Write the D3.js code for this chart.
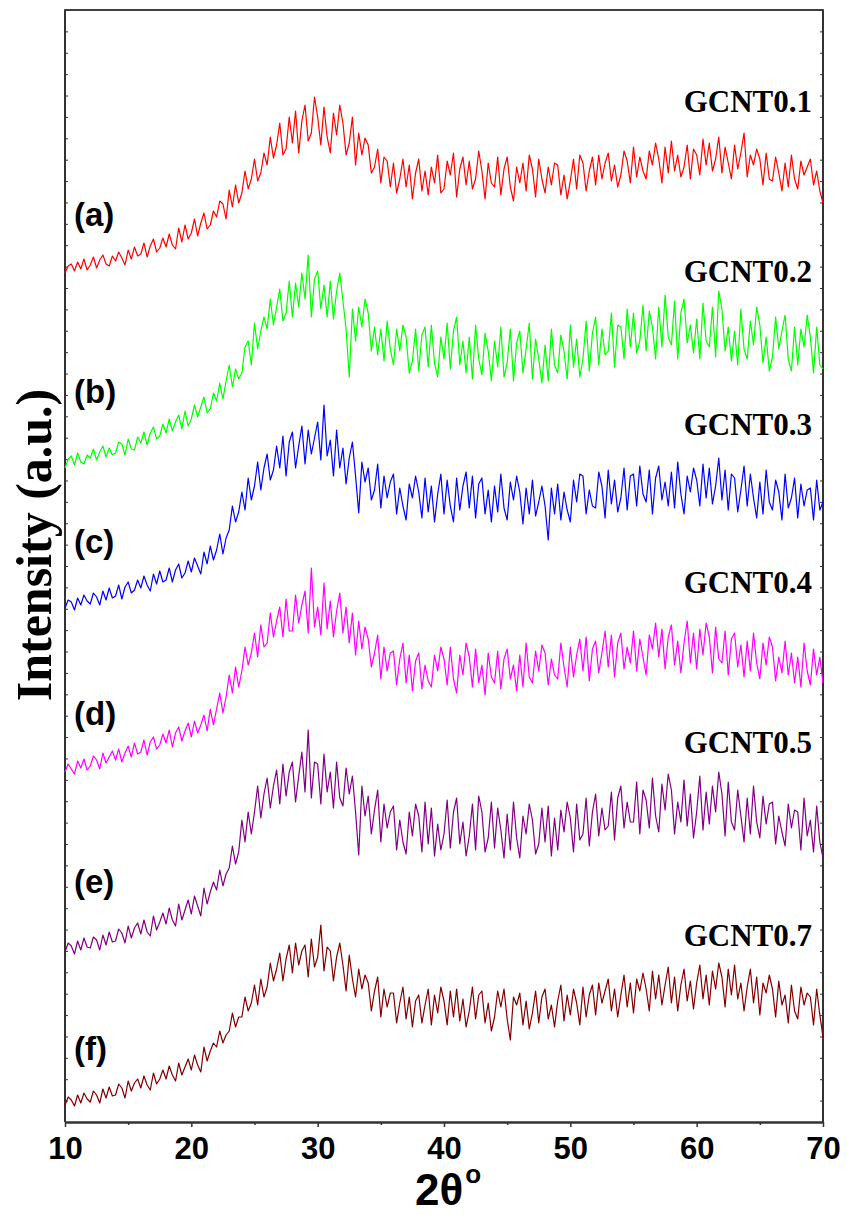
<!DOCTYPE html>
<html>
<head>
<meta charset="utf-8">
<script src="https://cdn.jsdelivr.net/npm/d3@7"></script>
<style>
body { margin: 0; background: #fff; }
svg { display: block; }
</style>
</head>
<body>
<div id="chart"></div>
<script>
// XRD patterns, 2theta from 10 to 70 in 0.25 deg steps

var angles = d3.range(0, 241).map(i => 10 + i * 0.25);

var gcnt01 = [
10,17,19,12, 21,14,24,13, 18,26,15,23, 28,19,17,27, 22,31,25,18,
33,24,36,27, 29,40,26,37, 44,31,35,45, 36,49,38,34, 55,41,58,44,
50,64,47,60, 70,54,58,72, 66,82,79,64, 93,76,98,80, 90,112,94,104,
124,102,110,130, 118,146,125,138, 160,128,134,166, 140,172,130,162, 178,142,150,186,
166,138,176,146, 130,170,148,178, 160,128,140,166, 118,150,128,145, 138,110,116,134,
100,126,122,96, 120,90,104,124, 96,118,84,110, 124,92,112,88, 116,100,128,90,
94,122,108,130, 86,114,126,98, 122,94,104,132, 112,84,120,100, 96,126,88,114,
126,96,82,116, 100,120,92,128, 114,86,124,104, 90,116,98,120, 118,88,108,84,
102,124,94,128, 120,92,112,126, 98,128,104,120, 130,102,118,96, 108,132,122,100,
136,106,126,112, 104,132,118,140, 124,100,136,110, 142,112,128,106, 116,138,104,134,
128,108,144,118, 140,112,124,146, 110,136,120,104, 138,114,130,150, 106,128,118,134,
124,98,130,104, 102,126,110,92, 120,96,128,104, 94,122,108,116, 124,98,112,92,
80];

var gcnt02 = [
9,18,21,12, 24,15,13,22, 19,28,17,25, 31,20,29,22, 24,35,33,22,
38,28,27,40, 34,45,32,44, 50,38,41,53, 44,58,46,55, 62,48,66,51,
58,72,60,70, 80,64,68,84, 76,94,78,96, 112,90,108,98, 104,130,136,112,
154,128,146,160, 148,178,152,170, 188,156,164,196, 160,194,170,204, 178,222,160,198,
206,168,192,160, 196,158,186,204, 176,148,100,168, 136,170,150,178, 164,126,150,122,
148,116,156,128, 112,148,126,152, 140,104,116,148, 106,142,150,110, 152,114,100,140,
118,154,108,146, 160,112,136,104, 140,98,152,118, 102,144,126,96, 136,110,150,100,
114,148,96,134, 146,104,128,154, 98,138,118,94, 132,96,148,112, 104,142,126,98,
152,110,138,100, 118,156,106,144, 160,112,148,122, 126,164,110,152, 150,118,168,130,
164,124,136,172, 126,166,150,118, 170,130,182,140, 132,176,118,164, 178,134,152,124,
158,118,174,136, 130,170,120,186, 168,126,150,116, 146,112,168,128, 118,156,132,170,
152,114,140,106, 120,160,128,146, 162,118,106,150, 112,148,130,162, 140,104,150,112,
108];

var gcnt03 = [
10,18,16,8, 20,13,23,17, 14,25,21,13, 27,18,30,20, 22,33,19,31,
36,25,28,38, 30,42,33,27, 44,34,47,36, 38,50,36,48, 54,40,45,57,
46,60,52,44, 66,54,72,58, 68,84,64,80, 88,112,96,106, 126,108,140,118,
132,156,128,150, 164,138,148,172, 150,182,142,176, 186,150,172,192, 154,188,164,180,
196,158,213,162, 178,142,188,150, 170,134,160,176, 142,105,156,136, 150,118,128,154,
110,142,120,136, 144,104,130,112, 98,134,120,142, 126,100,140,106, 132,96,124,144,
104,138,112,96, 140,108,132,146, 110,142,100,134, 140,104,128,96, 132,106,144,110,
98,136,118,142, 126,94,130,104, 138,102,116,132, 112,78,130,104, 134,98,126,108,
96,138,116,144, 142,104,128,112, 110,146,132,100, 148,114,138,106, 120,150,108,142,
144,112,152,124, 116,148,104,140, 152,118,136,112, 146,110,156,124, 104,142,126,150,
138,112,154,120, 150,114,132,160, 118,148,108,144, 140,106,128,152, 112,144,120,100,
136,104,148,116, 108,138,126,98, 144,110,120,140, 100,134,112,128, 130,98,138,108,
116];

var gcnt04 = [
11,19,14,9, 22,15,24,13, 17,27,23,14, 30,20,26,32, 23,34,21,30,
37,26,40,29, 31,43,28,41, 46,34,38,49, 40,53,36,50, 56,42,52,60,
46,62,50,58, 68,52,74,58, 74,90,70,86, 108,90,116,96, 112,136,118,130,
150,126,158,136, 140,170,146,162, 176,146,184,152, 152,188,160,178, 192,150,215,156,
176,148,200,154, 182,146,172,190, 150,176,140,170, 128,162,134,156, 144,116,130,148,
104,136,112,130, 132,98,124,140, 100,128,92,122, 130,94,118,102, 96,128,112,136,
124,98,136,104, 90,128,108,140, 126,96,134,100, 118,88,130,106, 100,132,94,124,
134,104,118,92, 128,96,140,106, 100,132,112,138, 130,98,124,108, 104,140,116,96,
136,106,128,144, 112,146,102,134, 142,110,130,152, 116,148,106,140, 150,114,136,120,
152,112,144,126, 108,148,134,160, 126,154,114,146, 158,118,142,110, 140,162,120,150,
114,154,128,160, 146,110,156,124, 120,152,108,144, 150,116,138,106, 142,112,150,120,
104,140,118,146, 136,102,126,110, 142,108,130,100, 126,96,140,112, 98,134,108,126,
100];

var gcnt05 = [
10,19,16,8, 21,12,24,15, 14,25,22,12, 27,17,30,20, 21,33,29,19,
36,24,34,39, 28,42,30,26, 46,32,40,49, 38,54,42,36, 58,42,52,62,
48,66,56,46, 74,58,70,80, 72,92,76,88, 94,116,98,110, 142,120,150,128,
150,176,144,168, 184,154,176,192, 158,198,166,190, 200,160,186,210, 170,232,164,200,
198,158,208,170, 190,154,200,164, 156,194,168,186, 150,107,176,146, 166,128,152,172,
120,158,134,150, 156,112,142,120, 108,150,126,158, 146,110,160,118, 154,106,138,112,
128,162,114,150, 164,118,140,106, 126,158,112,166, 150,110,124,160, 114,154,132,104,
148,112,160,124, 104,146,128,158, 142,108,118,154, 120,156,106,144, 112,152,130,160,
144,110,158,122, 128,164,116,150, 168,126,154,132, 136,170,122,164, 176,134,160,140,
140,180,128,172, 162,134,184,146, 130,178,152,188, 172,128,160,140, 182,136,168,124,
150,186,132,170, 138,176,150,190, 168,126,180,140, 132,172,146,120, 164,128,176,140,
124,166,138,158, 160,118,146,130, 116,158,134,152, 150,112,164,126, 142,110,156,120,
104];

var gcnt07 = [
10,18,15,9, 20,12,22,16, 13,24,20,12, 26,17,28,19, 20,31,27,17,
34,24,32,36, 27,39,30,25, 42,31,36,45, 36,49,40,34, 52,40,48,56,
45,60,50,43, 68,54,64,72, 68,84,72,80, 84,102,88,98, 98,118,104,112,
130,110,136,118, 128,152,134,146, 162,134,156,170, 142,172,150,164, 170,138,176,148,
158,190,144,168, 164,134,158,172, 150,124,160,136, 118,146,126,140, 132,104,124,138,
98,126,108,122, 122,92,112,128, 96,118,88,114, 120,92,110,126, 90,120,102,128,
114,90,124,98, 126,94,116,88, 104,128,96,120, 124,92,112,84, 98,124,108,126,
96,75,118,110, 122,90,114,86, 102,124,92,118, 126,96,110,88, 114,130,94,120,
100,126,112,90, 128,98,120,130, 100,132,112,124, 136,104,126,98, 120,140,108,132,
102,136,124,142, 126,104,144,116, 140,110,130,148, 112,138,104,130, 146,114,134,106,
132,150,116,140, 110,144,126,152, 138,108,146,120, 150,116,132,104, 128,146,112,138,
100,132,122,140, 126,98,134,110, 120,92,130,104, 96,128,110,122, 118,90,126,100,
78];

var seriesValues = [gcnt01, gcnt02, gcnt03, gcnt04, gcnt05, gcnt07];
var seriesNames = ["GCNT0.1", "GCNT0.2", "GCNT0.3", "GCNT0.4", "GCNT0.5", "GCNT0.7"];
var seriesTags = ["(a)", "(b)", "(c)", "(d)", "(e)", "(f)"];
// vertical stacking offset (a.u.)
var offsets = [839, 645, 504, 339, 160, 7];
var xTicks = [10, 20, 30, 40, 50, 60, 70];
var xMinorTicks = [15, 25, 35, 45, 55, 65];

// layout / style
var colors = ["#ff0000", "#00ff00", "#0000ff", "#ff00ff", "#800080", "#800000"];
var nameY = [112, 282, 435, 593, 753, 946];
var tagY = [226, 403, 553, 725, 893, 1060];

var svgWidth = 847;
var svgHeight = 1215;

var margin = {
	top: 10,
	left: 65,
	bottom: 93,
	right: 24
};

var width = svgWidth - margin.left - margin.right;
var height = svgHeight - margin.top - margin.bottom;

var svg = d3.select("#chart").append("svg")
	.attr("width", svgWidth)
	.attr("height", svgHeight);

var chartGroup = svg.append("g")
	.attr("transform", `translate(${margin.left}, ${margin.top})`);

var xScale = d3.scaleLinear().domain([10, 70]).range([0, width]);
var yScale = d3.scaleLinear().domain([0, 1112]).range([height, 0]);

// frame: left, top, right
chartGroup.append("path")
	.attr("d", `M0,${height} V0 H${width} V${height}`)
	.attr("fill", "none")
	.attr("stroke", "#000")
	.attr("stroke-width", 1.6);

// small inward ticks on the left and right edges
var yTickVals = d3.range(0, 53).map(i => i * 1112 / 52);
chartGroup.append("g")
	.call(d3.axisLeft(yScale).tickValues(yTickVals).tickSize(-3).tickSizeOuter(0).tickFormat(""))
	.call(g => g.select(".domain").remove())
	.selectAll("line").attr("stroke", "#333");
chartGroup.append("g")
	.attr("transform", `translate(${width}, 0)`)
	.call(d3.axisRight(yScale).tickValues(yTickVals).tickSize(-3).tickSizeOuter(0).tickFormat(""))
	.call(g => g.select(".domain").remove())
	.selectAll("line").attr("stroke", "#333");

// series
var line = d3.line()
	.x((d, i) => xScale(angles[i]));

seriesValues.forEach(function(vals, k) {
	chartGroup.append("path")
		.datum(vals)
		.attr("fill", "none")
		.attr("stroke", colors[k])
		.attr("stroke-width", 1.2)
		.attr("stroke-linejoin", "round")
		.attr("d", line.y(d => yScale(d + offsets[k])));
});

// x axis
var xAxis = chartGroup.append("g")
	.attr("transform", `translate(0, ${height})`)
	.call(d3.axisBottom(xScale).tickValues(xTicks).tickSize(5).tickPadding(10).tickSizeOuter(0));
xAxis.select(".domain").attr("stroke", "#333").attr("stroke-width", 2.5);
xAxis.selectAll("line").attr("stroke", "#333").attr("stroke-width", 1.5);
xAxis.selectAll("text")
	.attr("fill", "#000")
	.style("font-family", "'Liberation Sans', Arial, sans-serif")
	.style("font-weight", "bold")
	.style("font-size", "31px");

chartGroup.append("g")
	.attr("transform", `translate(0, ${height})`)
	.call(d3.axisBottom(xScale).tickValues(xMinorTicks).tickSize(3).tickFormat(""))
	.call(g => g.select(".domain").remove())
	.selectAll("line").attr("stroke", "#333").attr("stroke-width", 1.5);

// series names and tags
var serif = "'Liberation Serif', 'Times New Roman', serif";
var sans = "'Liberation Sans', Arial, sans-serif";

seriesNames.forEach(function(name, k) {
	svg.append("text")
		.attr("x", 812)
		.attr("y", nameY[k])
		.attr("text-anchor", "end")
		.style("font-family", serif)
		.style("font-weight", "bold")
		.style("font-size", "31px")
		.text(name);

	svg.append("text")
		.attr("x", 74)
		.attr("y", tagY[k])
		.style("font-family", sans)
		.style("font-weight", "bold")
		.style("font-size", "33px")
		.text(seriesTags[k]);
});

// axis titles
svg.append("text")
	.attr("transform", "rotate(-90)")
	.attr("x", -545)
	.attr("y", 51)
	.attr("text-anchor", "middle")
	.style("font-family", serif)
	.style("font-weight", "bold")
	.style("font-size", "50px")
	.text("Intensity (a.u.)");

var xTitle = svg.append("text")
	.attr("x", 415)
	.attr("y", 1205)
	.style("font-family", sans)
	.style("font-weight", "bold")
	.style("font-size", "44px")
	.text("2θ");
xTitle.append("tspan")
	.attr("dy", -22)
	.attr("dx", 2)
	.style("font-size", "26px")
	.text("o");
</script>
</body>
</html>
